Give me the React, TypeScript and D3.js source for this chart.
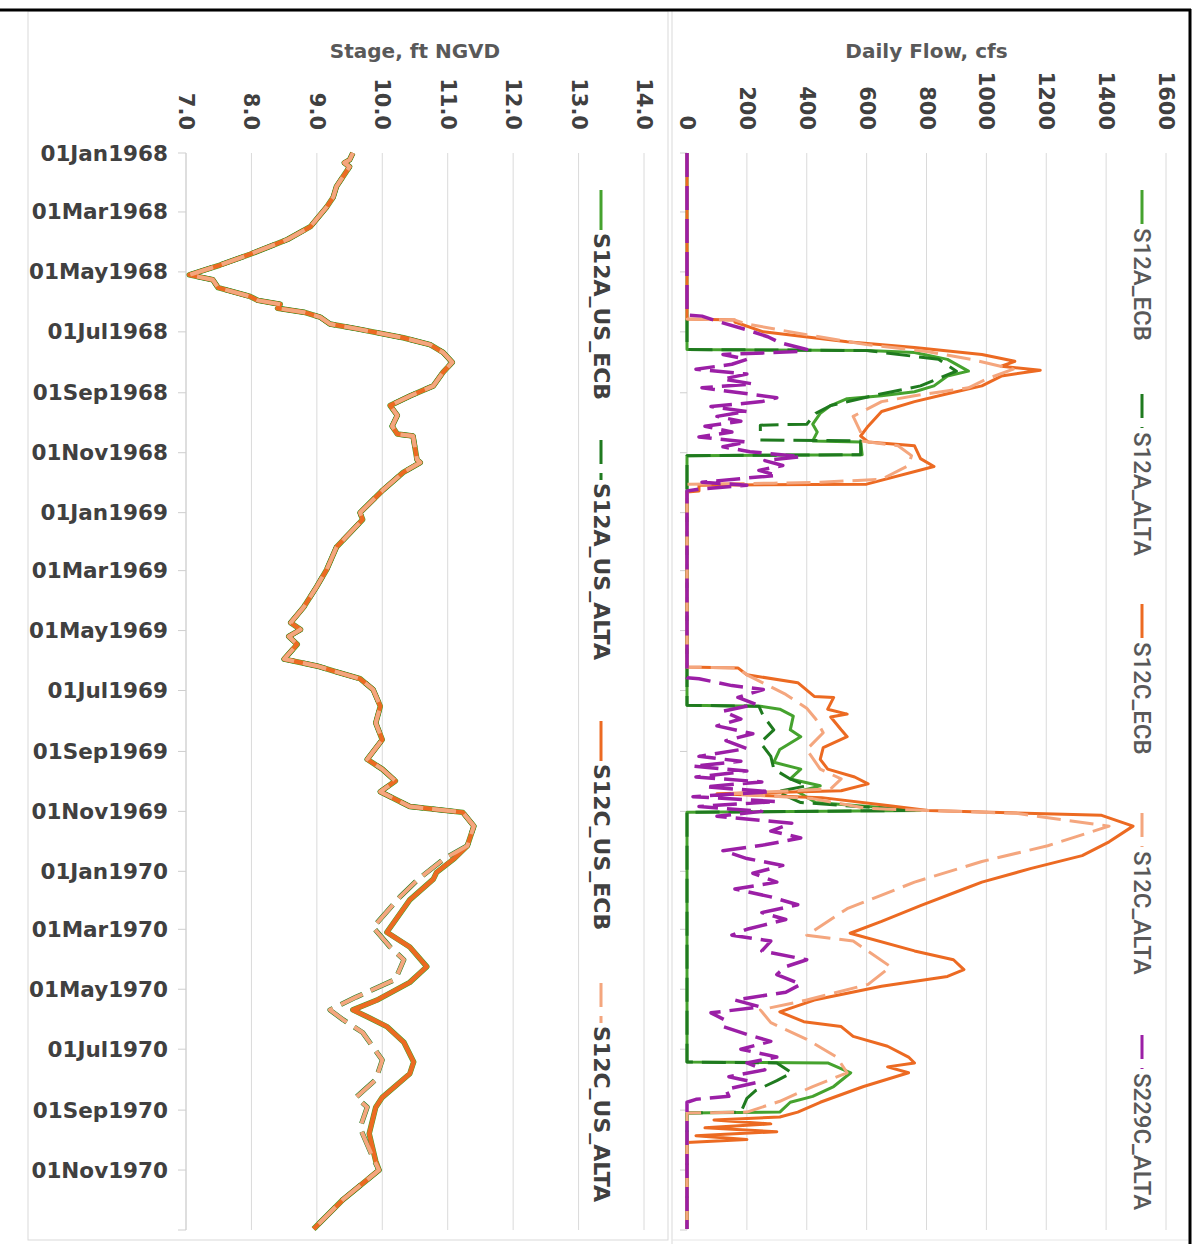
import React from "react";
import * as d3 from "d3";

type Pt = [string, number];

// ---- axis values ----
const stageTicks = [7, 8, 9, 10, 11, 12, 13, 14];
const flowTicks = [0, 200, 400, 600, 800, 1000, 1200, 1400, 1600];
const dateStart = "1968-01-01";
const dateEnd = "1971-01-01";
const dateTicks = [
  "1968-01-01", "1968-03-01", "1968-05-01", "1968-07-01", "1968-09-01", "1968-11-01",
  "1969-01-01", "1969-03-01", "1969-05-01", "1969-07-01", "1969-09-01", "1969-11-01",
  "1970-01-01", "1970-03-01", "1970-05-01", "1970-07-01", "1970-09-01", "1970-11-01",
];

// ---- stage, ft NGVD ----
const stageEcb: Pt[] = [
  ["1968-01-01", 9.55], ["1968-01-08", 9.5], ["1968-01-11", 9.42], ["1968-01-15", 9.5], ["1968-02-04", 9.3],
  ["1968-02-15", 9.25], ["1968-02-25", 9.15], ["1968-03-16", 8.9], ["1968-03-29", 8.55], ["1968-04-13", 7.98],
  ["1968-04-24", 7.52], ["1968-05-04", 7.05], ["1968-05-09", 7.41], ["1968-05-17", 7.49],
  ["1968-05-26", 7.98], ["1968-05-30", 8.1], ["1968-06-03", 8.44], ["1968-06-07", 8.4], ["1968-06-11", 8.8], ["1968-06-16", 9.05],
  ["1968-06-23", 9.2], ["1968-06-28", 9.62], ["1968-07-07", 10.32], ["1968-07-14", 10.73],
  ["1968-07-22", 10.93], ["1968-08-01", 11.07], ["1968-08-11", 10.93], ["1968-08-25", 10.78],
  ["1968-09-04", 10.43], ["1968-09-14", 10.12], ["1968-09-24", 10.23], ["1968-10-05", 10.15],
  ["1968-10-13", 10.23], ["1968-10-15", 10.47], ["1968-11-08", 10.53], ["1968-11-11", 10.58],
  ["1968-11-21", 10.32], ["1968-12-09", 10.01], ["1969-01-01", 9.66], ["1969-01-08", 9.7],
  ["1969-02-05", 9.3], ["1969-02-28", 9.15], ["1969-03-17", 9.0], ["1969-04-07", 8.8],
  ["1969-04-23", 8.6], ["1969-04-30", 8.75], ["1969-05-07", 8.57], ["1969-05-15", 8.7],
  ["1969-05-30", 8.5], ["1969-06-06", 9.0], ["1969-06-12", 9.3], ["1969-06-19", 9.66],
  ["1969-06-30", 9.86], ["1969-07-17", 9.97], ["1969-08-03", 9.9], ["1969-08-20", 10.0],
  ["1969-09-09", 9.77], ["1969-09-19", 10.0], ["1969-10-01", 10.2], ["1969-10-12", 9.97],
  ["1969-10-27", 10.42], ["1969-11-02", 11.23], ["1969-11-16", 11.4], ["1969-12-06", 11.3],
  ["1969-12-19", 11.1], ["1970-01-02", 10.83], ["1970-01-09", 10.78], ["1970-01-30", 10.42],
  ["1970-03-04", 10.07], ["1970-03-19", 10.42], ["1970-04-08", 10.68], ["1970-04-24", 10.42],
  ["1970-05-12", 9.92], ["1970-05-22", 9.55], ["1970-05-29", 9.77], ["1970-06-08", 10.07],
  ["1970-06-24", 10.33], ["1970-07-14", 10.48], ["1970-07-26", 10.42], ["1970-08-19", 10.0],
  ["1970-08-29", 9.9], ["1970-09-25", 9.8], ["1970-10-23", 9.9], ["1970-11-01", 9.95],
  ["1970-12-01", 9.4], ["1970-12-31", 8.95],
];

// ALTA stage follows the ECB record until December 1969, then runs lower
const stageAltaTail: Pt[] = [
  ["1969-12-19", 10.95], ["1970-01-09", 10.55], ["1970-01-27", 10.27], ["1970-02-27", 9.86],
  ["1970-03-19", 10.12], ["1970-04-01", 10.33], ["1970-04-21", 10.2], ["1970-05-09", 9.6],
  ["1970-05-22", 9.2], ["1970-06-01", 9.4], ["1970-06-14", 9.7], ["1970-07-12", 10.0],
  ["1970-08-01", 9.9], ["1970-08-19", 9.6], ["1970-08-29", 9.77], ["1970-09-19", 9.66],
  ["1970-10-20", 9.86], ["1970-11-01", 9.95], ["1970-12-01", 9.4], ["1970-12-31", 8.95],
];
const stageAlta: Pt[] = [...stageEcb.filter((d) => d[0] <= "1969-12-06"), ...stageAltaTail];

// ---- daily flow, cfs ----
const flowS12aEcb: Pt[] = [
  ["1968-01-01", 0], ["1968-07-19", 0], ["1968-07-20", 604], ["1968-07-22", 760],
  ["1968-07-29", 870], ["1968-08-10", 940], ["1968-08-15", 870], ["1968-08-25", 825],
  ["1968-08-31", 760], ["1968-09-04", 650], ["1968-09-07", 535], ["1968-09-14", 480],
  ["1968-09-22", 445], ["1968-10-03", 420], ["1968-10-11", 435], ["1968-10-20", 420],
  ["1968-10-21", 580], ["1968-11-03", 585], ["1968-11-04", 0],
  ["1969-07-16", 0], ["1969-07-17", 245], ["1969-07-20", 310], ["1969-07-27", 355],
  ["1969-08-10", 345], ["1969-08-17", 380], ["1969-08-30", 310], ["1969-09-12", 290],
  ["1969-09-19", 380], ["1969-09-29", 345], ["1969-10-06", 445], ["1969-10-12", 370],
  ["1969-10-23", 430], ["1969-10-31", 780], ["1969-11-02", 0],
  ["1970-07-14", 0], ["1970-07-15", 470], ["1970-07-25", 547], ["1970-08-08", 490],
  ["1970-08-18", 420], ["1970-08-24", 345], ["1970-09-03", 310], ["1970-09-04", 0],
  ["1970-12-31", 0],
];

const flowS12aAlta: Pt[] = [
  ["1968-01-01", 0], ["1968-07-19", 0], ["1968-07-20", 600], ["1968-07-29", 840],
  ["1968-08-10", 900], ["1968-08-25", 780], ["1968-09-04", 620], ["1968-09-14", 480],
  ["1968-09-22", 430], ["1968-10-03", 400], ["1968-10-04", 245], ["1968-10-19", 245],
  ["1968-10-20", 580], ["1968-11-03", 580], ["1968-11-04", 0],
  ["1969-07-16", 0], ["1969-07-17", 240], ["1969-07-27", 255], ["1969-08-10", 290],
  ["1969-08-23", 245], ["1969-09-06", 280], ["1969-09-19", 290], ["1969-09-29", 345],
  ["1969-10-06", 400], ["1969-10-12", 300], ["1969-10-23", 380], ["1969-10-31", 760],
  ["1969-11-02", 0],
  ["1970-07-14", 0], ["1970-07-15", 300], ["1970-07-25", 350], ["1970-08-02", 300],
  ["1970-08-12", 230], ["1970-08-20", 200], ["1970-09-03", 180], ["1970-09-04", 0],
  ["1970-12-31", 0],
];

const flowS12cEcb: Pt[] = [
  ["1968-01-01", 0], ["1968-06-18", 0], ["1968-06-19", 160], ["1968-06-21", 160],
  ["1968-07-01", 255], ["1968-07-11", 535], ["1968-07-17", 760], ["1968-07-24", 985],
  ["1968-07-31", 1095], ["1968-08-05", 1050], ["1968-08-09", 1180], ["1968-08-15", 1050],
  ["1968-08-25", 985], ["1968-09-02", 870], ["1968-09-10", 760], ["1968-09-20", 650],
  ["1968-10-05", 605], ["1968-10-15", 580], ["1968-10-21", 605], ["1968-10-25", 760],
  ["1968-11-07", 780], ["1968-11-15", 825], ["1968-12-03", 600], ["1968-12-04", 40],
  ["1968-12-10", 40], ["1968-12-11", 0],
  ["1969-06-07", 0], ["1969-06-08", 170], ["1969-06-15", 200], ["1969-06-23", 370],
  ["1969-07-07", 425], ["1969-07-08", 490], ["1969-07-20", 470], ["1969-07-25", 535],
  ["1969-07-28", 480], ["1969-08-10", 515], ["1969-08-17", 535], ["1969-08-28", 455],
  ["1969-09-09", 445], ["1969-09-19", 470], ["1969-09-27", 560], ["1969-10-04", 605],
  ["1969-10-11", 515], ["1969-10-14", 100], ["1969-10-18", 450], ["1969-10-26", 670],
  ["1969-10-31", 805], ["1969-11-05", 1385], ["1969-11-16", 1490], ["1969-12-02", 1410],
  ["1969-12-16", 1320], ["1969-12-29", 1150], ["1970-01-12", 985], ["1970-01-19", 925],
  ["1970-02-05", 780], ["1970-02-21", 650], ["1970-03-05", 545], ["1970-03-23", 760],
  ["1970-04-01", 890], ["1970-04-11", 925], ["1970-04-18", 870], ["1970-04-28", 650],
  ["1970-05-12", 425], ["1970-05-24", 310], ["1970-06-03", 390], ["1970-06-08", 515],
  ["1970-06-18", 555], ["1970-06-28", 670], ["1970-07-09", 740], ["1970-07-15", 760],
  ["1970-07-19", 670], ["1970-07-25", 740], ["1970-08-08", 590], ["1970-08-24", 445],
  ["1970-09-03", 370], ["1970-09-08", 310], ["1970-09-11", 90], ["1970-09-15", 280],
  ["1970-09-19", 60], ["1970-09-23", 300], ["1970-09-27", 30], ["1970-10-01", 200],
  ["1970-10-04", 0], ["1970-12-31", 0],
];

const flowS12cAlta: Pt[] = [
  ["1968-01-01", 0], ["1968-06-18", 0], ["1968-06-19", 160], ["1968-06-23", 200],
  ["1968-07-04", 400], ["1968-07-14", 600], ["1968-07-21", 800], ["1968-07-29", 950],
  ["1968-08-08", 1090], ["1968-08-18", 1000], ["1968-08-27", 940], ["1968-09-04", 760],
  ["1968-09-10", 650], ["1968-09-25", 555], ["1968-10-11", 580], ["1968-10-20", 580],
  ["1968-10-25", 705], ["1968-11-04", 750], ["1968-11-14", 740], ["1968-11-28", 650],
  ["1968-12-01", 445], ["1968-12-02", 290], ["1968-12-03", 0],
  ["1969-06-07", 0], ["1969-06-08", 170], ["1969-06-15", 200], ["1969-07-05", 330],
  ["1969-07-19", 400], ["1969-07-30", 430], ["1969-08-13", 455], ["1969-08-30", 400],
  ["1969-09-19", 445], ["1969-09-29", 515], ["1969-10-09", 480], ["1969-10-14", 150],
  ["1969-10-19", 420], ["1969-10-29", 600], ["1969-11-03", 1100], ["1969-11-16", 1410],
  ["1969-12-06", 1205], ["1969-12-22", 985], ["1970-01-12", 760], ["1970-02-08", 535],
  ["1970-03-07", 400], ["1970-03-13", 555], ["1970-04-08", 680], ["1970-04-26", 605],
  ["1970-05-12", 400], ["1970-05-22", 245], ["1970-06-04", 280], ["1970-06-21", 400],
  ["1970-07-09", 500], ["1970-07-25", 535], ["1970-08-08", 420], ["1970-08-23", 310],
  ["1970-09-03", 200], ["1970-09-04", 0], ["1970-12-31", 0],
];

const flowS229cAlta: Pt[] = [
  ["1968-01-01", 0], ["1968-06-14", 0], ["1968-06-15", 50], ["1968-06-21", 110],
  ["1968-06-29", 200], ["1968-07-06", 270], ["1968-07-12", 310], ["1968-07-19", 400],
  ["1968-07-21", 380], ["1968-07-24", 120], ["1968-07-29", 200], ["1968-08-03", 150],
  ["1968-08-08", 30], ["1968-08-13", 200], ["1968-08-18", 120], ["1968-08-23", 220],
  ["1968-08-27", 50], ["1968-08-31", 150], ["1968-09-06", 300], ["1968-09-10", 250],
  ["1968-09-15", 80], ["1968-09-20", 200], ["1968-09-25", 100], ["1968-09-30", 180],
  ["1968-10-05", 60], ["1968-10-11", 150], ["1968-10-16", 40], ["1968-10-21", 200],
  ["1968-10-26", 120], ["1968-10-31", 210], ["1968-11-05", 380], ["1968-11-09", 260],
  ["1968-11-14", 320], ["1968-11-19", 240], ["1968-11-24", 300], ["1968-12-01", 50],
  ["1968-12-04", 200], ["1968-12-08", 40], ["1968-12-10", 0],
  ["1969-06-18", 0], ["1969-06-19", 40], ["1969-06-26", 150], ["1969-06-30", 255],
  ["1969-07-08", 170], ["1969-07-15", 230], ["1969-07-22", 120], ["1969-07-30", 180],
  ["1969-08-06", 100], ["1969-08-14", 220], ["1969-08-21", 130], ["1969-08-29", 200],
  ["1969-09-06", 40], ["1969-09-11", 180], ["1969-09-16", 20], ["1969-09-21", 200],
  ["1969-09-27", 30], ["1969-10-02", 250], ["1969-10-07", 60], ["1969-10-12", 280],
  ["1969-10-17", 20], ["1969-10-22", 300], ["1969-10-27", 40], ["1969-11-01", 250],
  ["1969-11-06", 100], ["1969-11-13", 350], ["1969-11-21", 280], ["1969-11-28", 380],
  ["1969-12-05", 260], ["1969-12-11", 120], ["1969-12-19", 200], ["1969-12-26", 320],
  ["1970-01-03", 220], ["1970-01-12", 300], ["1970-01-19", 160], ["1970-01-27", 280],
  ["1970-02-04", 370], ["1970-02-12", 250], ["1970-02-19", 330], ["1970-03-01", 200],
  ["1970-03-07", 150], ["1970-03-13", 280], ["1970-03-23", 250], ["1970-04-01", 400],
  ["1970-04-08", 330], ["1970-04-16", 300], ["1970-04-26", 380], ["1970-05-04", 330],
  ["1970-05-12", 160], ["1970-05-19", 245], ["1970-05-25", 80], ["1970-06-01", 125],
  ["1970-06-08", 120], ["1970-06-16", 200], ["1970-06-23", 280], ["1970-07-01", 180],
  ["1970-07-09", 300], ["1970-07-15", 200], ["1970-07-22", 260], ["1970-07-29", 140],
  ["1970-08-04", 230], ["1970-08-11", 130], ["1970-08-18", 140], ["1970-08-21", 30],
  ["1970-08-24", 0], ["1970-12-31", 0],
];

// ---- styling ----
const GREEN = "#45a22e";
const DARK_GREEN = "#1f7a1f";
const ORANGE = "#ec6a22";
const LIGHT_ORANGE = "#f4a67e";
const PURPLE = "#9b1fa6";
const DASH = "24,9";
const GRID = "#dadada";
const LABEL = "#404040";
const TITLE = "#595959";
const BOLD_FONT = "'DejaVu Sans', Verdana, sans-serif";
const LEGEND_FONT = "Roboto, 'Noto Sans', sans-serif";

interface Series {
  name: string;
  data: Pt[];
  color: string;
  dash?: string;
  width: number;
}

const stageSeries: Series[] = [
  { name: "S12A_US_ECB", data: stageEcb, color: GREEN, width: 5.5 },
  { name: "S12A_US_ALTA", data: stageAlta, color: DARK_GREEN, dash: DASH, width: 5 },
  { name: "S12C_US_ECB", data: stageEcb, color: ORANGE, width: 4.5 },
  { name: "S12C_US_ALTA", data: stageAlta, color: LIGHT_ORANGE, dash: DASH, width: 4 },
];

const flowSeries: Series[] = [
  { name: "S12A_ECB", data: flowS12aEcb, color: GREEN, width: 3 },
  { name: "S12A_ALTA", data: flowS12aAlta, color: DARK_GREEN, dash: DASH, width: 3 },
  { name: "S12C_ECB", data: flowS12cEcb, color: ORANGE, width: 3 },
  { name: "S12C_ALTA", data: flowS12cAlta, color: LIGHT_ORANGE, dash: DASH, width: 3 },
  { name: "S229C_ALTA", data: flowS229cAlta, color: PURPLE, dash: DASH, width: 3.5 },
];

const parse = d3.timeParse("%Y-%m-%d");
const fmtDate = d3.timeFormat("%d%b%Y");
const fmtStage = d3.format(".1f");
const fmtFlow = d3.format("d");

export default function App() {
  const W = 1198;
  const H = 1244;

  const y = d3.scaleTime().domain([parse(dateStart)!, parse(dateEnd)!]).range([153, 1230]);
  const xStage = d3.scaleLinear().domain([7, 14]).range([186, 644]);
  const xFlow = d3.scaleLinear().domain([0, 1600]).range([687, 1166]);
  const [top, bottom] = y.range();

  const stagePath = d3
    .line<Pt>()
    .x((d) => xStage(d[1]))
    .y((d) => y(parse(d[0])!));
  const flowPath = d3
    .line<Pt>()
    .x((d) => xFlow(d[1]))
    .y((d) => y(parse(d[0])!));

  const tickLen = 8;
  const allDateTicks = [...dateTicks, dateEnd];

  // legend placements along each panel
  const stageLegendX = 601;
  const stageLegendY = [190, 440, 721, 983];
  const stageSymbolLen = 40;
  const flowLegendX = 1142;
  const flowLegendY = [190, 394, 604, 813, 1035];
  const flowSymbolLen = 34;

  return (
    <svg
      width={W}
      height={H}
      viewBox={`0 0 ${W} ${H}`}
      style={{ position: "absolute", left: 0, top: 0, background: "#fff" }}
    >
      <rect x={0} y={0} width={W} height={H} fill="#fff" />

      {/* chart area borders */}
      <rect x={28} y={11} width={640} height={1229} fill="none" stroke="#d9d9d9" strokeWidth={1} />
      <line x1={672} x2={672} y1={11} y2={H} stroke="#d9d9d9" strokeWidth={1} />
      <line x1={672} x2={1188} y1={1240} y2={1240} stroke="#e6e6e6" strokeWidth={1} />

      {/* ---------- stage panel ---------- */}
      <text
        x={(xStage(7) + xStage(14)) / 2}
        y={58}
        textAnchor="middle"
        fontFamily={BOLD_FONT}
        fontWeight="bold"
        fontSize={20}
        fill={TITLE}
      >
        Stage, ft NGVD
      </text>
      {stageTicks.map((t) => (
        <g key={`sg${t}`}>
          <line x1={xStage(t)} x2={xStage(t)} y1={top} y2={bottom} stroke={GRID} strokeWidth={1} />
          <text
            transform={`translate(${xStage(t)},130) rotate(90)`}
            textAnchor="end"
            dominantBaseline="central"
            fontFamily={BOLD_FONT}
            fontWeight="bold"
            fontSize={21}
            fill={LABEL}
          >
            {fmtStage(t)}
          </text>
        </g>
      ))}
      <line x1={xStage(7)} x2={xStage(7)} y1={top} y2={bottom} stroke="#cfcfcf" strokeWidth={1} />
      {allDateTicks.map((d) => (
        <line
          key={`dt${d}`}
          x1={xStage(7) - tickLen}
          x2={xStage(7)}
          y1={y(parse(d)!)}
          y2={y(parse(d)!)}
          stroke="#cfcfcf"
          strokeWidth={1}
        />
      ))}
      {dateTicks.map((d) => (
        <text
          key={`dl${d}`}
          x={168}
          y={y(parse(d)!)}
          textAnchor="end"
          dominantBaseline="central"
          fontFamily={BOLD_FONT}
          fontWeight="bold"
          fontSize={21.5}
          fill={LABEL}
        >
          {fmtDate(parse(d)!)}
        </text>
      ))}
      {stageSeries.map((s) => (
        <path
          key={s.name}
          d={stagePath(s.data) ?? ""}
          fill="none"
          stroke={s.color}
          strokeWidth={s.width}
          strokeDasharray={s.dash}
          strokeLinejoin="round"
        />
      ))}
      {stageSeries.map((s, i) => (
        <g key={`sl${s.name}`}>
          <line
            x1={stageLegendX}
            x2={stageLegendX}
            y1={stageLegendY[i]}
            y2={stageLegendY[i] + stageSymbolLen}
            stroke={s.color}
            strokeWidth={3}
            strokeDasharray={s.dash}
          />
          <text
            transform={`translate(${stageLegendX},${stageLegendY[i] + stageSymbolLen + 3}) rotate(90)`}
            dominantBaseline="central"
            fontFamily={BOLD_FONT}
            fontWeight="bold"
            fontSize={22}
            fill={LABEL}
          >
            {s.name}
          </text>
        </g>
      ))}

      {/* ---------- flow panel ---------- */}
      <text
        x={(xFlow(0) + xFlow(1600)) / 2}
        y={58}
        textAnchor="middle"
        fontFamily={BOLD_FONT}
        fontWeight="bold"
        fontSize={20}
        fill={TITLE}
      >
        Daily Flow, cfs
      </text>
      {flowTicks.map((t) => (
        <g key={`fg${t}`}>
          <line x1={xFlow(t)} x2={xFlow(t)} y1={top} y2={bottom} stroke={GRID} strokeWidth={1} />
          <text
            transform={`translate(${xFlow(t)},130) rotate(90)`}
            textAnchor="end"
            dominantBaseline="central"
            fontFamily={BOLD_FONT}
            fontWeight="bold"
            fontSize={21}
            fill={LABEL}
          >
            {fmtFlow(t)}
          </text>
        </g>
      ))}
      {allDateTicks.map((d) => (
        <line
          key={`ft${d}`}
          x1={xFlow(0) - 7}
          x2={xFlow(0)}
          y1={y(parse(d)!)}
          y2={y(parse(d)!)}
          stroke="#cfcfcf"
          strokeWidth={1}
        />
      ))}
      {flowSeries.map((s) => (
        <path
          key={s.name}
          d={flowPath(s.data) ?? ""}
          fill="none"
          stroke={s.color}
          strokeWidth={s.width}
          strokeDasharray={s.dash}
          strokeLinejoin="round"
        />
      ))}
      {flowSeries.map((s, i) => (
        <g key={`fl${s.name}`}>
          <line
            x1={flowLegendX}
            x2={flowLegendX}
            y1={flowLegendY[i]}
            y2={flowLegendY[i] + flowSymbolLen}
            stroke={s.color}
            strokeWidth={3}
            strokeDasharray={s.dash}
          />
          <text
            transform={`translate(${flowLegendX},${flowLegendY[i] + flowSymbolLen + 4}) rotate(90)`}
            dominantBaseline="central"
            fontFamily={LEGEND_FONT}
            fontWeight={500}
            fontSize={24}
            fill={TITLE}
          >
            {s.name}
          </text>
        </g>
      ))}

      {/* outer frame */}
      <line x1={0} x2={1191} y1={10} y2={10} stroke="#000" strokeWidth={3} />
      <line x1={1190} x2={1190} y1={9} y2={H} stroke="#000" strokeWidth={3} />
    </svg>
  );
}
